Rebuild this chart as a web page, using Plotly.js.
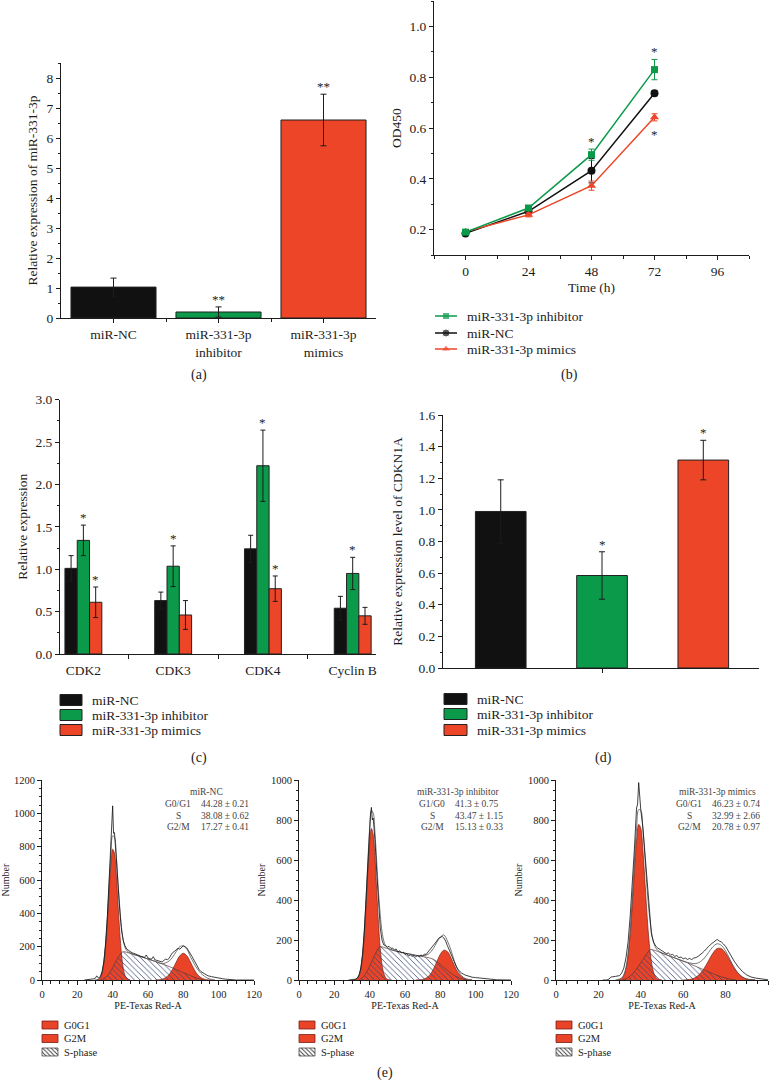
<!DOCTYPE html>
<html><head><meta charset="utf-8">
<script src="https://cdn.plot.ly/plotly-3.0.1.min.js"></script>
<style>html,body{margin:0;padding:0;background:#fff}#chart{width:774px;height:1092px}</style>
</head><body><div id="chart"></div>
<script>
// ---------- Panel (a): relative expression of miR-331-3p ----------
const groupsA = ['miR-NC', 'miR-331-3p<br>inhibitor', 'miR-331-3p<br>mimics'];
const valuesA = [1.03, 0.20, 6.60];
const errorsA = [0.30, 0.17, 0.86];
const sigA = ['', '**', '**'];

// ---------- Panel (b): CCK-8 growth curves ----------
const timeB = [0, 24, 48, 72];
const inhB = [0.19, 0.285, 0.495, 0.83];
const inhErrB = [0.008, 0.01, 0.022, 0.04];
const ncB = [0.185, 0.272, 0.432, 0.737];
const ncErrB = [0.006, 0.01, 0.048, 0.01];
const mimB = [0.192, 0.258, 0.373, 0.642];
const mimErrB = [0.006, 0.008, 0.018, 0.014];
const sigInhB = ['', '', '*', '*'];
const sigMimB = ['', '', '', '*'];
const namesB = ['miR-331-3p inhibitor', 'miR-NC', 'miR-331-3p mimics'];

// ---------- Panel (c): CDK / cyclin expression ----------
const genesC = ['CDK2', 'CDK3', 'CDK4', 'Cyclin B'];
const ncC = [1.01, 0.63, 1.24, 0.54];
const ncErrC = [0.15, 0.10, 0.16, 0.14];
const inhC = [1.34, 1.035, 2.22, 0.95];
const inhErrC = [0.18, 0.24, 0.42, 0.19];
const mimC = [0.61, 0.46, 0.77, 0.45];
const mimErrC = [0.18, 0.17, 0.15, 0.10];
const sigNcC = ['', '', '', ''];
const sigInhC = ['*', '*', '*', '*'];
const sigMimC = ['*', '', '*', ''];
const groupNames = ['miR-NC', 'miR-331-3p inhibitor', 'miR-331-3p mimics'];

// ---------- Panel (d): CDKN1A ----------
const valuesD = [0.99, 0.585, 1.315];
const errorsD = [0.20, 0.15, 0.125];
const sigD = ['', '*', '*'];

// ---------- Panel (e): cell-cycle histograms ----------
const cycleTitles = ['miR-NC', 'miR-331-3p inhibitor', 'miR-331-3p mimics'];
const phaseLabels = [['G0/G1', 'S', 'G2/M'], ['G1/G0', 'S', 'G2/M'], ['G0/G1', 'S', 'G2/M']];
const phaseValues = [['44.28 ± 0.21', '38.08 ± 0.62', '17.27 ± 0.41'],
                     ['41.3 ± 0.75', '43.47 ± 1.15', '15.13 ± 0.33'],
                     ['46.23 ± 0.74', '32.99 ± 2.66', '20.78 ± 0.97']];
const peakMarks = [[40, 80], [41], [39]];
const legendE = ['G0G1', 'G2M', 'S-phase'];

// e1 miR-NC
const r1X = [24,26,28,30,31,32,33,34,35,36,37,38,39,39.5,40,40.5,41,42,43,44,45,46,47,48,49,50,51,52,53,54,55,56,57,58,59,60,61,62,63,64,65,66,67,68,69,70,71,72,73,74,75,76,77,78,79,80,81,82,83,84,85,86,87,88,89,90,92,94,96,98,100,102,104,106,108,110,115,120];
const r1Y = [0,2,4,8,25,12,20,50,110,220,380,600,820,950,1045,880,885,740,560,420,300,235,205,185,178,170,163,160,155,150,148,142,140,135,150,132,128,125,140,120,118,115,112,108,118,125,122,130,150,165,172,180,190,185,198,205,200,192,175,160,140,120,100,80,62,50,35,25,20,15,12,8,5,3,1,0,0,0];
const f1X = [30,32,33,34,35,36,37,38,39,40,41,42,43,44,45,46,47,48,50,52,56,60,64,68,70,72,74,76,78,80,82,84,86,88,90,92,94,96,98];
const f1Y = [0,5,15,45,108,215,375,575,750,865,860,755,585,440,315,240,196,176,163,153,140,126,112,98,103,114,138,171,200,204,185,140,100,65,40,22,10,4,0];
const g01X = [31,32,33,34,35,36,37,38,39,40,41,42,43,44,45,46,47,48,50];
const g01Y = [0,5,15,42,100,200,350,535,695,785,760,640,460,290,155,70,28,10,0];
const g21X = [64,66,68,70,72,74,76,78,80,82,84,86,88,90,92,94,96];
const g21Y = [0,1,5,14,33,66,108,145,160,145,108,66,33,14,5,1,0];
const s1X = [33,35,37,39,41,43,45,46,48,52,56,60,64,68,72,76,80,84,88,92];
const s1Y = [0,8,25,55,95,135,163,170,166,153,140,126,112,97,81,63,44,26,10,0];

// e2 inhibitor
const r2X = [28,30,32,33,34,35,36,37,38,39,40,40.5,41,41.5,42,43,44,45,46,47,48,49,50,51,52,53,54,55,56,57,58,59,60,61,62,63,64,65,66,67,68,69,70,71,72,73,74,75,76,77,78,79,80,81,82,83,84,85,86,87,88,89,90,92,94,96,98,100,102,104,106,108,110,112,120];
const r2Y = [0,1,4,10,25,60,130,250,420,610,780,830,863,800,810,700,540,380,260,200,175,172,165,168,158,160,150,155,140,146,135,140,128,132,120,126,118,124,115,122,118,125,120,130,128,140,150,160,172,185,195,208,215,218,210,195,172,150,128,105,85,68,52,35,25,18,14,12,10,9,6,4,2,1,0];
const f2X = [31,33,34,35,36,37,38,39,40,41,42,43,44,45,46,47,48,49,50,52,56,60,64,68,72,74,76,78,80,82,84,86,88,90,92,94,96,98];
const f2Y = [0,8,24,60,132,250,412,598,760,847,835,736,589,439,324,241,195,172,161,152,142,134,128,121,124,135,157,188,215,225,195,150,93,50,22,8,2,0];
const g02X = [31,32,33,34,35,36,37,38,39,40,41,42,43,44,45,46,47,48,49,50,52];
const g02Y = [0,2,8,22,55,120,226,377,546,688,757,727,609,444,282,157,76,32,12,4,0];
const g22X = [66,68,70,72,74,76,78,80,82,84,86,88,90,92,94,96,98];
const g22Y = [0,1,3,10,25,53,91,129,149,142,111,71,37,16,6,2,0];
const s2X = [34,36,38,40,42,44,46,48,52,56,60,64,68,72,76,80,84,88,92,95];
const s2Y = [0,12,35,70,108,145,167,163,152,142,134,127,120,114,104,78,48,22,6,0];

// e3 mimics
const r3X = [22,24,25,26,28,30,31,32,33,34,35,36,37,38,38.5,39,39.5,40,41,42,43,44,45,46,47,48,49,50,51,52,53,54,55,56,57,58,59,60,61,62,63,64,65,66,67,68,69,70,71,72,73,74,75,76,77,78,79,80,81,82,83,84,86,88,90,92,94,96,98,100];
const r3Y = [0,0,5,15,18,22,35,60,110,190,320,480,660,860,880,987,900,850,760,620,470,330,230,190,170,160,152,145,140,132,135,125,128,118,122,112,115,106,110,103,108,102,110,112,118,125,135,145,158,168,178,188,196,203,195,190,180,168,150,130,112,95,65,42,25,15,10,6,3,1];
const f3X = [28,30,31,32,33,34,35,36,37,38,39,40,41,42,43,44,45,46,47,48,50,54,58,62,66,68,70,72,74,76,78,80,82,84,86,88,90,92,94];
const f3Y = [0,5,10,27,62,132,250,410,593,757,852,848,755,607,451,330,243,190,162,148,135,118,103,88,82,91,110,138,166,181,173,146,104,64,34,15,5,2,0];
const g03X = [29,30,31,32,33,34,35,36,37,38,39,40,41,42,43,44,45,46,47,48,50];
const g03Y = [0,3,8,23,56,122,230,381,551,700,778,758,647,483,316,182,91,40,15,5,0];
const g23X = [60,62,64,66,68,70,72,74,76,78,80,82,84,86,88,90,92,94];
const g23Y = [0,2,5,14,32,60,97,134,157,157,134,97,60,32,14,5,2,0];
const s3X = [31,33,35,37,39,41,43,44.5,46,50,54,58,62,66,70,74,78,82,85];
const s3Y = [0,6,20,42,70,102,135,153,150,135,118,102,86,68,50,32,16,5,0];

// ================= drawing =================
const W = 774, H = 1092;
const F = 'Liberation Serif, Times New Roman, serif';
const INK = '#1c1c1c';
const BLACK = '#111111', GREEN = '#0b9a4a', RED = '#ec4527';
const HRED = '#ea4428', HEDGE = '#7a2014', HATCH = '#3a4670';
function dx(a, b) { return [a / W, b / W]; }
function dy(bot, top) { return [1 - bot / H, 1 - top / H]; }
function axis(o, fs) {
  fs = fs || 13.5;
  return Object.assign({
    showline: true, linecolor: INK, linewidth: 1, mirror: false,
    ticks: 'outside', ticklen: 4, tickwidth: 1, tickcolor: INK,
    showgrid: false, zeroline: false, fixedrange: true,
    tickfont: { family: F, size: fs, color: INK }
  }, o);
}
function minor(o) { return Object.assign({ ticks: 'outside', ticklen: 2.5, tickwidth: 1, tickcolor: INK, showgrid: false }, o); }
function ttl(text, fs, standoff) { return { text: text, standoff: standoff, font: { family: F, size: fs || 13.5, color: INK } }; }

const traces = [];
const annotations = [];
const shapes = [];
function T(x, y, text, size, opt) {
  return Object.assign({ xref: 'x8', yref: 'y8', x: x, y: y, text: text, showarrow: false,
    font: { family: F, size: size, color: INK }, xanchor: 'center', yanchor: 'middle' }, opt || {});
}
function star(xr, yr, x, y, text, below, fs) {
  annotations.push({ xref: xr, yref: yr, x: x, y: y, text: text, showarrow: false,
    font: { family: F, size: fs || 13, color: INK }, xanchor: 'center',
    yanchor: below ? 'top' : 'bottom', yshift: below ? -4 : -2 });
}

// ---- (a)
traces.push({ type: 'bar', x: groupsA.map((_, i) => i), y: valuesA, width: 0.81,
  marker: { color: [BLACK, GREEN, RED], line: { color: '#222', width: 1 } },
  error_y: { type: 'data', array: errorsA, visible: true, color: INK, thickness: 1, width: 3 },
  xaxis: 'x', yaxis: 'y', showlegend: false, hoverinfo: 'skip' });
sigA.forEach((s, i) => { if (s) star('x', 'y', i, valuesA[i] + errorsA[i], s); });

// ---- (b)
const serB = [[inhB, inhErrB, GREEN, 'square', 7], [ncB, ncErrB, BLACK, 'circle', 8], [mimB, mimErrB, RED, 'triangle-up', 8]];
[serB[1], serB[2], serB[0]].forEach(s => {
  traces.push({ type: 'scatter', mode: 'lines+markers', x: timeB, y: s[0],
    line: { color: s[2], width: 1.5 }, marker: { color: s[2], symbol: s[3], size: s[4] },
    error_y: { type: 'data', array: s[1], visible: true, color: s[2], thickness: 1, width: 3 },
    xaxis: 'x2', yaxis: 'y2', showlegend: false, hoverinfo: 'skip' });
});
sigInhB.forEach((s, i) => { if (s) star('x2', 'y2', timeB[i], inhB[i] + inhErrB[i], s, false); });
sigMimB.forEach((s, i) => { if (s) star('x2', 'y2', timeB[i], mimB[i] - mimErrB[i], s, true); });

// ---- (c)
const wC = 0.137, offC = [-0.205, -0.068, 0.069];
const serC = [[ncC, ncErrC, BLACK, sigNcC], [inhC, inhErrC, GREEN, sigInhC], [mimC, mimErrC, RED, sigMimC]];
serC.forEach((s, j) => {
  traces.push({ type: 'bar', x: genesC.map((_, i) => i), y: s[0], width: wC, offset: offC[j],
    marker: { color: s[2], line: { color: '#222', width: 1 } },
    error_y: { type: 'data', array: s[1], visible: true, color: INK, thickness: 1, width: 2.5 },
    xaxis: 'x3', yaxis: 'y3', showlegend: false, hoverinfo: 'skip' });
  s[3].forEach((t, i) => { if (t) star('x3', 'y3', i + offC[j] + wC / 2, s[0][i] + s[1][i], t); });
});

// ---- (d)
traces.push({ type: 'bar', x: valuesD.map((_, i) => i), y: valuesD, width: 0.5, offset: -0.25,
  marker: { color: [BLACK, GREEN, RED], line: { color: '#222', width: 1 } },
  error_y: { type: 'data', array: errorsD, visible: true, color: INK, thickness: 1, width: 3 },
  xaxis: 'x4', yaxis: 'y4', showlegend: false, hoverinfo: 'skip' });
sigD.forEach((s, i) => { if (s) star('x4', 'y4', i, valuesD[i] + errorsD[i], s); });

// ---- (e)
const panelsE = [
  { r: [r1X, r1Y], f: [f1X, f1Y], g0: [g01X, g01Y], g2: [g21X, g21Y], s: [s1X, s1Y], triY: -18 },
  { r: [r2X, r2Y], f: [f2X, f2Y], g0: [g02X, g02Y], g2: [g22X, g22Y], s: [s2X, s2Y], triY: -15 },
  { r: [r3X, r3Y], f: [f3X, f3Y], g0: [g03X, g03Y], g2: [g23X, g23Y], s: [s3X, s3Y], triY: -15 }
];
panelsE.forEach((p, k) => {
  const xa = 'x' + (5 + k), ya = 'y' + (5 + k);
  const base = { type: 'scatter', mode: 'lines', xaxis: xa, yaxis: ya, showlegend: false, hoverinfo: 'skip' };
  traces.push(Object.assign({}, base, { x: p.g0[0], y: p.g0[1], fill: 'tozeroy', fillcolor: HRED, line: { color: HEDGE, width: 0.7, shape: 'spline' } }));
  traces.push(Object.assign({}, base, { x: p.g2[0], y: p.g2[1], fill: 'tozeroy', fillcolor: HRED, line: { color: HEDGE, width: 0.7, shape: 'spline' } }));
  traces.push(Object.assign({}, base, { x: p.s[0], y: p.s[1], fill: 'tozeroy', fillcolor: 'rgba(255,255,255,0)',
    fillpattern: { shape: '\\', fgcolor: HATCH, size: 4, solidity: 0.2 }, line: { color: '#5a3a3a', width: 0.7, shape: 'spline' } }));
  traces.push(Object.assign({}, base, { x: p.f[0], y: p.f[1], line: { color: '#555', width: 0.8, shape: 'spline' } }));
  traces.push(Object.assign({}, base, { x: p.r[0], y: p.r[1], line: { color: '#111', width: 0.8 } }));
  traces.push(Object.assign({}, base, { mode: 'markers', x: peakMarks[k], y: peakMarks[k].map(() => p.triY), cliponaxis: false,
    marker: { symbol: 'triangle-up', size: 7, color: '#111' } }));
});

// ---- legends and labels (pixel overlay axis x8/y8)
const legBRows = [316, 333, 349];
serB.forEach((s, i) => {
  shapes.push({ type: 'line', xref: 'x8', yref: 'y8', x0: 435, x1: 457, y0: legBRows[i], y1: legBRows[i], line: { color: s[2], width: 1.5 } });
  annotations.push(T(465, legBRows[i], namesB[i], 13.5, { xanchor: 'left' }));
});
traces.push({ type: 'scatter', mode: 'markers', x: [446, 446, 446], y: legBRows, xaxis: 'x8', yaxis: 'y8',
  marker: { color: serB.map(s => s[2]), symbol: serB.map(s => s[3]), size: serB.map(s => s[4]) }, showlegend: false, hoverinfo: 'skip' });

const barCols = [BLACK, GREEN, RED];
[[60, 82, 90, [700, 715, 730]], [444, 467, 475, [699, 714, 730]]].forEach(L => {
  groupNames.forEach((n, i) => {
    shapes.push({ type: 'rect', xref: 'x8', yref: 'y8', x0: L[0], x1: L[1], y0: L[3][i] - 5.5, y1: L[3][i] + 5.5, fillcolor: barCols[i], line: { color: '#222', width: 1 } });
    annotations.push(T(L[2], L[3][i], n, 13.5, { xanchor: 'left' }));
  });
});

const legEx = [42, 299, 556];
const legERows = [1025, 1038.5, 1052];
const titleX = [206, 458, 717], labelX = [178, 432, 689], valueX = [199, 453, 710];
const statRows = [792, 804, 815.5, 827];
legEx.forEach((x0, k) => {
  [0, 1].forEach(i => {
    shapes.push({ type: 'rect', xref: 'x8', yref: 'y8', x0: x0, x1: x0 + 16, y0: legERows[i] - 4, y1: legERows[i] + 4, fillcolor: HRED, line: { color: HEDGE, width: 0.8 } });
  });
  const yc = legERows[2];
  traces.push({ type: 'scatter', mode: 'lines', xaxis: 'x8', yaxis: 'y8', x: [x0, x0 + 16, x0 + 16, x0, x0], y: [yc - 4, yc - 4, yc + 4, yc + 4, yc - 4],
    fill: 'toself', fillcolor: 'rgba(255,255,255,0)', fillpattern: { shape: '\\', fgcolor: '#333', size: 3, solidity: 0.3 },
    line: { color: '#333', width: 0.7 }, showlegend: false, hoverinfo: 'skip' });
  legendE.forEach((n, i) => annotations.push(T(x0 + 20, legERows[i], n, 10.5, { xanchor: 'left' })));
  annotations.push(T(titleX[k], statRows[0], cycleTitles[k], 9.5, { font: { family: F, size: 9.5, color: '#444' } }));
  phaseLabels[k].forEach((n, i) => {
    annotations.push(T(labelX[k], statRows[i + 1], n, 9.5, { font: { family: F, size: 9.5, color: '#444' } }));
    annotations.push(T(valueX[k], statRows[i + 1], phaseValues[k][i], 9.5, { xanchor: 'left', font: { family: F, size: 9.5, color: '#444' } }));
  });
});

[['(a)', 199, 375], ['(b)', 569, 375], ['(c)', 199, 758], ['(d)', 603, 758], ['(e)', 385, 1073]].forEach(p => annotations.push(T(p[1], p[2], p[0], 14)));

const eX = (dom, max) => axis({ domain: dom, range: [0, max], dtick: 20, tick0: 0, minor: minor({ dtick: 5 }), title: ttl('PE-Texas Red-A', 10, 3) }, 10.5);
const eY = (dom, max, xa) => axis({ domain: dom, range: [0, max], dtick: 200, tick0: 0, anchor: xa, minor: minor({ dtick: 50 }), title: ttl('Number', 10, 3) }, 10.5);

const layout = {
  width: W, height: H, autosize: false, margin: { l: 0, r: 0, t: 0, b: 0 },
  paper_bgcolor: '#ffffff', plot_bgcolor: 'rgba(0,0,0,0)', showlegend: false,
  font: { family: F, color: INK },
  xaxis: axis({ domain: dx(61, 376), range: [-0.5, 2.5], tickvals: [0, 1, 2], ticktext: groupsA, anchor: 'y', minor: minor({ tickvals: [0.5, 1.5] }) }),
  yaxis: axis({ domain: dy(318, 63), range: [0, 8.5], dtick: 1, anchor: 'x', minor: minor({ dtick: 0.5 }), title: ttl('Relative expression of miR-331-3p', 13.5, 5) }),
  xaxis2: axis({ domain: dx(434, 749), range: [-12, 108], dtick: 24, tick0: 0, anchor: 'y2', minor: minor({ dtick: 12 }), title: ttl('Time (h)', 13.5, 4) }),
  yaxis2: axis({ domain: dy(255, 1), range: [0.1, 1.1], tickvals: [0.2, 0.4, 0.6, 0.8, 1.0], tickformat: '.1f', anchor: 'x2', minor: minor({ dtick: 0.1, tick0: 0 }), title: ttl('OD450', 13.5, 4) }),
  xaxis3: axis({ domain: dx(60, 376), range: [-0.26, 3.26], tickvals: [0, 1, 2, 3], ticktext: genesC, ticklen: 0, ticklabelstandoff: 4, anchor: 'y3', minor: minor({ tickvals: [0.5, 1.5, 2.5], ticklen: 4 }) }),
  yaxis3: axis({ domain: dy(654, 399.6), range: [0, 3.0], dtick: 0.5, tickformat: '.1f', anchor: 'x3', minor: minor({ dtick: 0.25 }), title: ttl('Relative expression', 13.5, 4) }),
  xaxis4: axis({ domain: dx(443, 759), range: [-0.57, 2.55], tickvals: [1], ticktext: [''], anchor: 'y4' }),
  yaxis4: axis({ domain: dy(668, 415), range: [0, 1.6], dtick: 0.2, tickformat: '.1f', anchor: 'x4', minor: minor({ dtick: 0.1 }), title: ttl('Relative expression level of CDKN1A', 13.5, 12) }),
  xaxis5: Object.assign(eX(dx(42, 254), 120), { anchor: 'y5' }),
  yaxis5: eY(dy(980, 780), 1200, 'x5'),
  xaxis6: Object.assign(eX(dx(299, 511), 120), { anchor: 'y6' }),
  yaxis6: eY(dy(980, 780), 1000, 'x6'),
  xaxis7: Object.assign(eX(dx(556, 768), 100), { anchor: 'y7' }),
  yaxis7: eY(dy(980, 780), 1000, 'x7'),
  xaxis8: { domain: [0, 1], range: [0, W], visible: false, fixedrange: true, anchor: 'y8' },
  yaxis8: { domain: [0, 1], range: [H, 0], visible: false, fixedrange: true, anchor: 'x8' },
  annotations: annotations, shapes: shapes
};
Plotly.newPlot('chart', traces, layout, { staticPlot: true, displayModeBar: false });
</script></body></html>
